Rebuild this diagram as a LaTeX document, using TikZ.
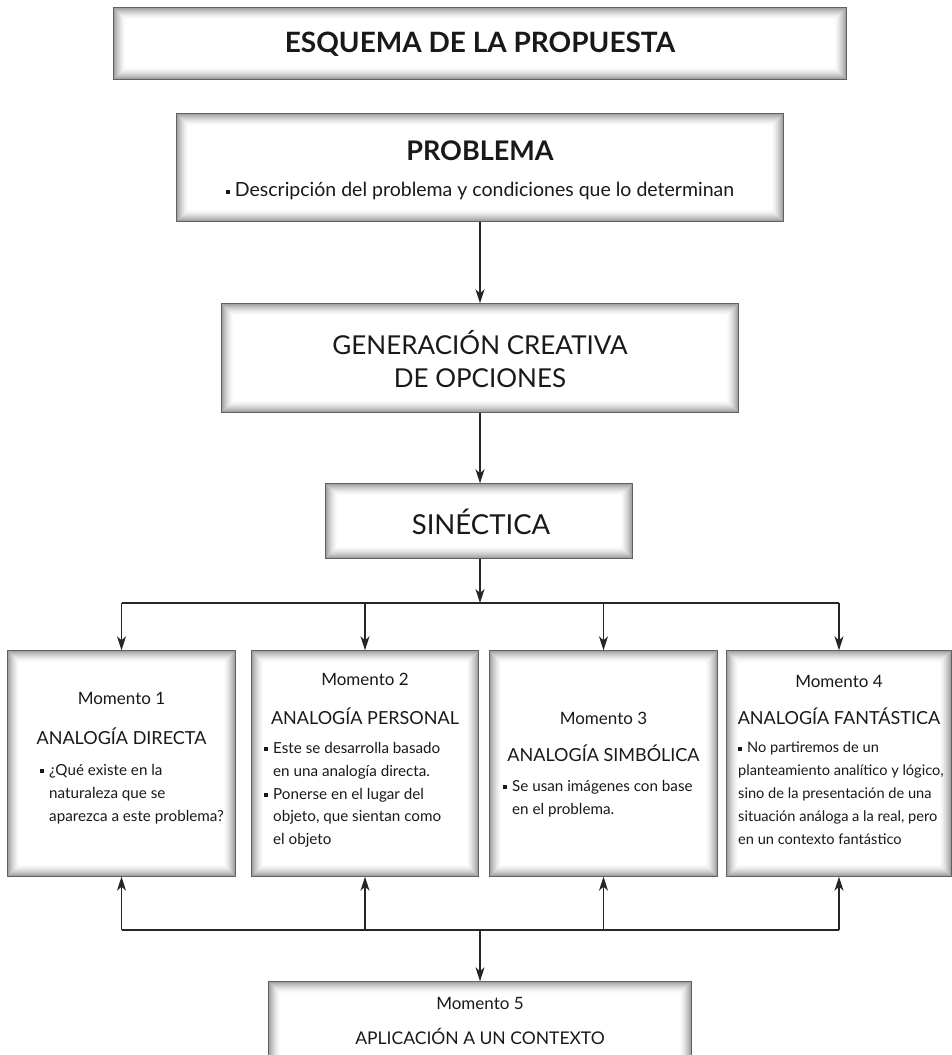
\documentclass[tikz,border=0pt]{standalone}
\usepackage{fontspec}
\setmainfont{Lato}
\usetikzlibrary{arrows.meta}
\newcommand\bul{\makebox[9pt][l]{\rule[0.28ex]{3.8pt}{3.8pt}}}
\newcommand\ind{\hspace*{9pt}}
\newcommand\glowbox[1]{%
  \foreach \i in {1,...,12}{%
    \pgfmathsetmacro\pc{36*(1-(\i-1)/12)^1.7}%
    \pgfmathsetmacro\dd{\i+0.2}%
    \draw[line width=1.05pt, draw=black!\pc]
      ([xshift=\dd pt,yshift=-\dd pt]#1.north west) rectangle
      ([xshift=-\dd pt,yshift=\dd pt]#1.south east);
  }}
\tikzset{
  box/.style={draw=black!62, line width=1.4pt, fill=white, rectangle, inner sep=0pt},
  arr/.style={draw=black!85, line width=1.1pt, -{Stealth[length=14pt,width=9pt,inset=4pt]}},
  ln/.style={draw=black!85, line width=1.1pt},
  ttl/.style={font=\fontsize{28}{30}\selectfont\bfseries, text=black!90},
  big/.style={font=\fontsize{26}{33}\selectfont, text=black!90, align=center},
  desc/.style={font=\fontsize{19.5}{24}\selectfont, text=black!90},
  mom/.style={font=\fontsize{17}{20}\selectfont, text=black!90},
  ana/.style={font=\fontsize{18}{22}\selectfont, text=black!90},
  btxt/.style={font=\fontsize{15.2}{22.8}\selectfont, text=black!90, align=left, anchor=north west, inner sep=0pt},
}
\begin{document}
\begin{tikzpicture}[x=1pt,y=-1pt]
\useasboundingbox (0,0) rectangle (952,1055);
% boxes
\node[box, minimum width=732pt, minimum height=71pt] (title) at (480,43.5) {};
\node[box, minimum width=606pt, minimum height=107pt] (prob) at (480,167.5) {};
\node[box, minimum width=516pt, minimum height=108pt] (gen) at (480,358) {};
\node[box, minimum width=306pt, minimum height=74pt] (sin) at (479,521) {};
\node[box, minimum width=227pt, minimum height=225pt] (m1) at (121.5,763.5) {};
\node[box, minimum width=226pt, minimum height=225pt] (m2) at (365,763.5) {};
\node[box, minimum width=227pt, minimum height=225pt] (m3) at (603.5,763.5) {};
\node[box, minimum width=224pt, minimum height=225pt] (m4) at (839,763.5) {};
\node[box, minimum width=422pt, minimum height=100pt] (m5) at (480,1032) {};
\glowbox{title}\glowbox{prob}\glowbox{gen}\glowbox{sin}
\glowbox{m1}\glowbox{m2}\glowbox{m3}\glowbox{m4}\glowbox{m5}
% texts
\node[ttl] (tA) at (480,44) {ESQUEMA DE LA PROPUESTA};
\node[ttl, font=\fontsize{27}{30}\selectfont\bfseries] (pA) at (480,151) {PROBLEMA};
\node[desc] (pB) at (480,191) {\bul Descripción del problema y condiciones que lo determinan};
\node[big] (gA) at (480,359) {GENERACIÓN CREATIVA\\DE OPCIONES};
\node[big, font=\fontsize{27.5}{30}\selectfont] (sA) at (481,522) {SINÉCTICA};
\node[mom] (m1a) at (121.5,698) {Momento 1};
\node[ana] (m1b) at (121.5,736) {ANALOGÍA DIRECTA};
\node[btxt] (m1c) at (40,764) {\bul ¿Qué existe en la\\\ind naturaleza que se\\\ind aparezca a este problema?};
\node[mom] (m2a) at (365,679) {Momento 2};
\node[ana] (m2b) at (365,716) {ANALOGÍA PERSONAL};
\node[btxt] (m2c) at (264,742) {\bul Este se desarrolla basado\\\ind en una analogía directa.\\\bul Ponerse en el lugar del\\\ind objeto, que sientan como\\\ind el objeto};
\node[mom] (m3a) at (603.5,718) {Momento 3};
\node[ana] (m3b) at (603.5,753) {ANALOGÍA SIMBÓLICA};
\node[btxt] (m3c) at (503,780) {\bul Se usan imágenes con base\\\ind en el problema.};
\node[mom] (m4a) at (839,681) {Momento 4};
\node[ana] (m4b) at (839,716) {ANALOGÍA FANTÁSTICA};
\node[btxt, font=\fontsize{14.6}{22.8}\selectfont] (m4c) at (738,742) {\bul No partiremos de un\\planteamiento analítico y lógico,\\sino de la presentación de una\\situación análoga a la real, pero\\en un contexto fantástico};
\node[mom] (m5a) at (480,1003) {Momento 5};
\node[ana, font=\fontsize{17.5}{20}\selectfont] (m5b) at (480,1036) {APLICACIÓN A UN CONTEXTO};
% connectors
\coordinate (hl) at (0,603);
\coordinate (bl) at (0,930);
\draw[arr] (prob.south) -- (gen.north);
\draw[arr] (gen.south) -- (sin.north -| gen.south);
\draw[arr] (sin.south -| gen.south) -- (hl -| gen.south);
\draw[ln] (m1.north |- hl) -- (m4.north |- hl);
\foreach \m in {m1,m2,m3,m4}{\draw[arr] (\m.north |- hl) -- (\m.north);}
\draw[ln] (m1.south |- bl) -- (m4.south |- bl);
\foreach \m in {m1,m2,m3,m4}{\draw[arr] (\m.south |- bl) -- (\m.south);}
\draw[arr] (m5.north |- bl) -- (m5.north);
\end{tikzpicture}
\end{document}
